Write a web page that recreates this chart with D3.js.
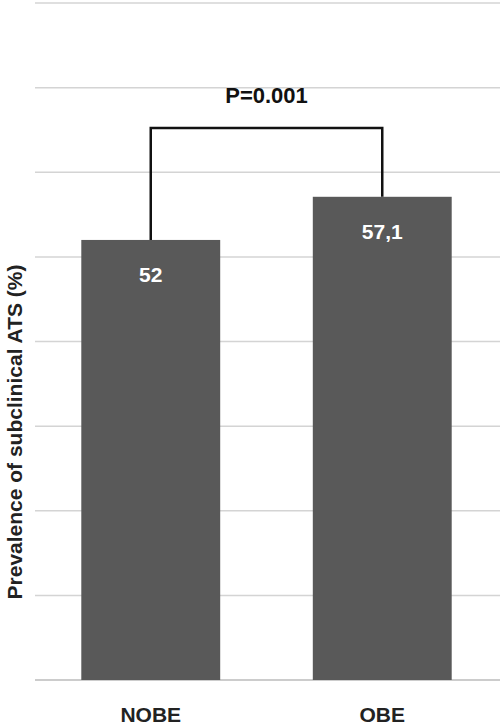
<!DOCTYPE html>
<html><head><meta charset="utf-8">
<script src="https://cdn.jsdelivr.net/npm/d3@7"></script>
<style>body{margin:0;background:#fff}</style></head>
<body><svg id="c" width="500" height="725"></svg>
<script>
const categories=["NOBE","OBE"];
const values=[52,57.1];
const valueLabels=["52","57,1"];
const yTicks=[0,10,20,30,40,50,60,70,80];
const pLabel="P=0.001";
const svg=d3.select("#c");
const font="Liberation Sans, Arial, sans-serif";
const y=d3.scaleLinear().domain([0,80]).range([680,3]);
const x=d3.scaleBand().domain(categories).range([35,498]).paddingInner(0.4).paddingOuter(0.2);
svg.selectAll("line.g").data(yTicks).enter().append("line")
 .attr("x1",35).attr("x2",500).attr("y1",d=>y(d)).attr("y2",d=>y(d))
 .attr("stroke",d=>d===0?"#bbb":"#d4d4d4").attr("stroke-width",1.5);
svg.selectAll("rect").data(values).enter().append("rect")
 .attr("x",(d,i)=>x(categories[i])).attr("width",x.bandwidth())
 .attr("y",d=>y(d)).attr("height",d=>y(0)-y(d)).attr("fill","#595959");
svg.selectAll("text.v").data(values).enter().append("text")
 .attr("x",(d,i)=>x(categories[i])+x.bandwidth()/2).attr("y",d=>y(d)+42)
 .attr("text-anchor","middle").attr("fill","#fff").attr("font-family",font)
 .attr("font-weight","bold").attr("font-size",21).text((d,i)=>valueLabels[i]);
svg.selectAll("text.c").data(categories).enter().append("text")
 .attr("x",d=>x(d)+x.bandwidth()/2).attr("y",722).attr("text-anchor","middle")
 .attr("font-family",font).attr("font-weight","bold").attr("font-size",21).attr("fill","#222").text(d=>d);
const xa=x(categories[0])+x.bandwidth()/2, xb=x(categories[1])+x.bandwidth()/2, brTop=128;
svg.append("path").attr("d",`M${xa},${y(values[0])}V${brTop}H${xb}V${y(values[1])}`)
 .attr("fill","none").attr("stroke","#111").attr("stroke-width",2.5);
svg.append("text").attr("x",(xa+xb)/2).attr("y",103).attr("text-anchor","middle")
 .attr("font-family",font).attr("font-weight","bold").attr("font-size",22).attr("fill","#111").text(pLabel);
svg.append("text").attr("transform","translate(22,432) rotate(-90)").attr("text-anchor","middle")
 .attr("font-family",font).attr("font-weight","bold").attr("font-size",21).attr("fill","#222")
 .text("Prevalence of  subclinical ATS (%)");
</script></body></html>
